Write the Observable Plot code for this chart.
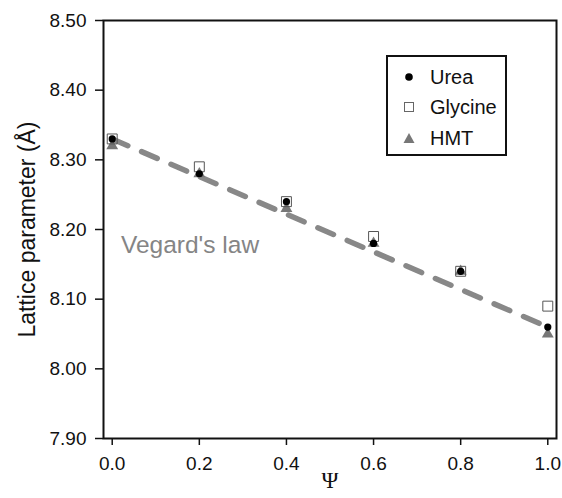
<!DOCTYPE html>
<html>
<head>
<meta charset="utf-8">
<script src="https://cdn.jsdelivr.net/npm/d3@7"></script>
<script src="https://cdn.jsdelivr.net/npm/@observablehq/plot@0.6"></script>
<style>
  html, body { margin: 0; padding: 0; background: #fff; }
  #wrap { position: relative; width: 562px; height: 498px; font-family: "Liberation Sans", Arial, sans-serif; }
  #legend { position: absolute; left: 386px; top: 55px; width: 121px; height: 101px; border: 2px solid #111; box-sizing: border-box; background: #fff; }
  .row { position: absolute; left: 0; height: 22px; display: flex; align-items: center; font-size: 20px; color: #111; white-space: nowrap; }
  .row svg { margin-left: 15px; margin-right: 15px; }
</style>
</head>
<body>
<div id="wrap">
  <div id="chart"></div>
  <div id="legend">
    <div class="row" style="top:9px"><svg width="12" height="12"><circle cx="6" cy="6" r="3.8" fill="#000"/></svg>Urea</div>
    <div class="row" style="top:39px"><svg width="12" height="12"><rect x="1.5" y="1.5" width="9" height="9" fill="none" stroke="#666" stroke-width="1"/></svg>Glycine</div>
    <div class="row" style="top:70px"><svg width="12" height="12"><path d="M6,1 L11.5,11 L0.5,11 Z" fill="#777"/></svg>HMT</div>
  </div>
</div>
<script>
const psi = [0.0, 0.2, 0.4, 0.6, 0.8, 1.0];
const urea = [8.33, 8.28, 8.24, 8.18, 8.14, 8.06];
const glycine = [8.33, 8.29, 8.24, 8.19, 8.14, 8.09];
const hmt = [8.32, 8.28, 8.23, 8.18, 8.14, 8.05];
const vegardPsi = [0.0, 1.0];
const vegard = [8.33, 8.06];
const yTicks = [7.90, 8.00, 8.10, 8.20, 8.30, 8.40, 8.50];
const xTicks = [0.0, 0.2, 0.4, 0.6, 0.8, 1.0];

const rows = (ys) => psi.map((p, i) => ({psi: p, v: ys[i]}));
const lineData = vegardPsi.map((p, i) => ({psi: p, v: vegard[i]}));

const chart = Plot.plot({
  width: 562,
  height: 498,
  marginLeft: 103,
  marginRight: 6,
  marginTop: 20,
  marginBottom: 60,
  style: {fontFamily: "'Liberation Sans', Arial, sans-serif", fontSize: "19px", color: "#111", background: "#fff"},
  x: {domain: [-0.02, 1.02], label: null},
  y: {domain: [7.9, 8.5], label: null},
  marks: [
    Plot.axisX({ticks: xTicks, tickFormat: d3.format(".1f"), tickSize: 7, tickPadding: 11, stroke: "#111", strokeWidth: 1.5, fontSize: 19, label: null}),
    Plot.axisY({ticks: yTicks, tickFormat: d3.format(".2f"), tickSize: 8, tickPadding: 9, stroke: "#111", strokeWidth: 1.5, fontSize: 19, label: null}),
    Plot.frame({stroke: "#111", strokeWidth: 2}),
    Plot.line(lineData, {x: "psi", y: "v", stroke: "#888", strokeWidth: 5.5, strokeDasharray: "17,15"}),
    Plot.dot(rows(hmt), {x: "psi", y: "v", symbol: "triangle", r: 4.4, fill: "#777", stroke: "none"}),
    Plot.dot(rows(glycine), {x: "psi", y: "v", symbol: "square", r: 5.6, fill: "none", stroke: "#555", strokeWidth: 1}),
    Plot.dot(rows(urea), {x: "psi", y: "v", symbol: "circle", r: 3.6, fill: "#000", stroke: "none"}),
    Plot.text(["Vegard's law"], {x: 0.02, y: 8.177, text: d => d, textAnchor: "start", fill: "#858585", fontSize: 24.5}),
    Plot.text(["Lattice parameter (Å)"], {frameAnchor: "left", dx: -76, rotate: -90, textAnchor: "middle", text: d => d, fontSize: 23, fill: "#111"}),
    Plot.text(["Ψ"], {frameAnchor: "bottom", dy: 49, text: d => d, fontSize: 23, fontFamily: "'Liberation Serif', 'DejaVu Serif', serif", fill: "#111"})
  ]
});
document.getElementById("chart").appendChild(chart);
</script>
</body>
</html>
